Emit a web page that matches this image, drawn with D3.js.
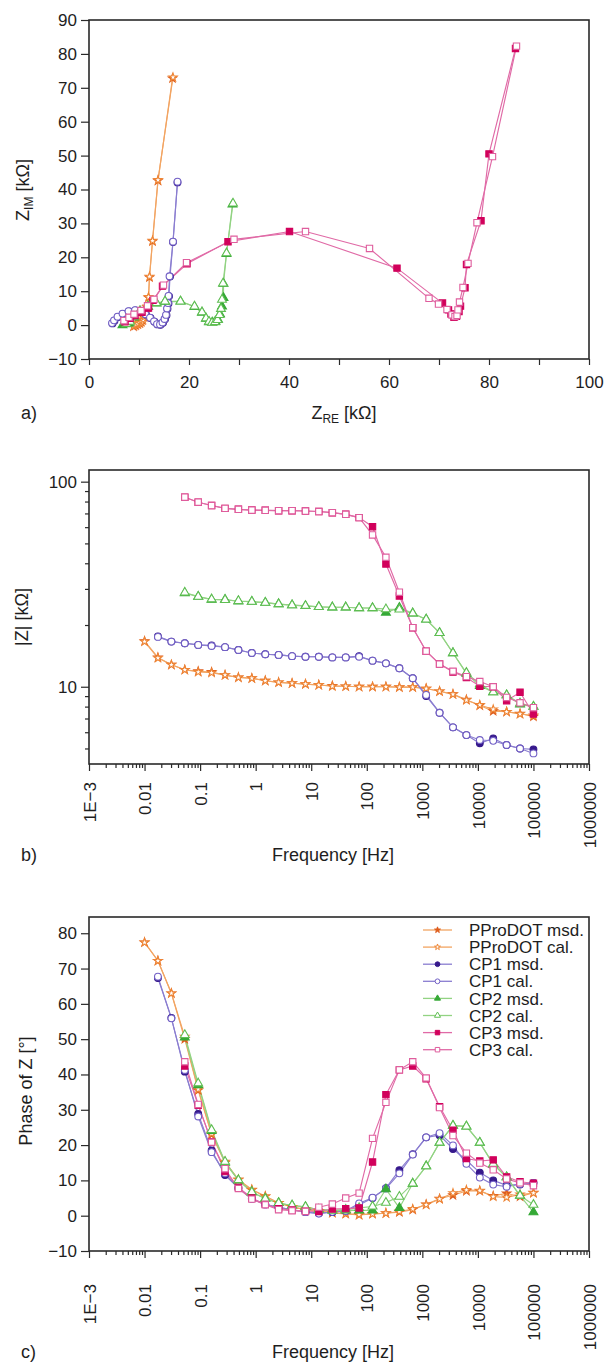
<!DOCTYPE html>
<html>
<head>
<meta charset="utf-8">
<script src="https://cdn.jsdelivr.net/npm/d3@7"></script>
<style>
  body { margin: 0; background: #fff; }
  svg { display: block; }
  text { font-family: "Liberation Sans", Arial, Helvetica, sans-serif; fill: #1e1e1e; }
</style>
</head>
<body>
<svg id="chart" width="606" height="1371"></svg>
<script>
// ---------- data ----------
const seriesNames = ["PProDOT msd.", "PProDOT cal.", "CP1 msd.", "CP1 cal.",
                     "CP2 msd.", "CP2 cal.", "CP3 msd.", "CP3 cal."];

// measurement frequencies [Hz]
const freqHz = [0.01, 0.0174, 0.0304, 0.053, 0.0924, 0.161, 0.281, 0.489, 0.853, 1.49,
                2.59, 4.52, 7.88, 13.7, 24.0, 41.8, 72.8, 127, 221, 386,
                672, 1172, 2043, 3562, 6210, 10827, 18874, 32904, 57362, 100000];
// index of the first frequency used by each series
const firstFreqIndex = [0, 0, 1, 1, 3, 3, 3, 3];

// Nyquist plot: real and imaginary parts [kOhm]
const nyqRePProDOTmsd = [8.9, 9.3, 9.7, 10.1, 10.4, 10.7, 11.0, 11.3, 11.6, 11.9, 12.1, 12.7, 13.8, 16.7];
const nyqImPProDOTmsd = [-0.4, -0.1, 0.2, 0.5, 0.9, 1.4, 2.3, 3.6, 5.3, 8.1, 14.1, 24.7, 42.6, 72.8];
const nyqRePProDOTcal = [9.0, 9.4, 9.8, 10.2, 10.5, 10.8, 11.1, 11.4, 11.7, 11.9, 12.1, 12.7, 13.8, 16.8];
const nyqImPProDOTcal = [-0.2, 0.1, 0.3, 0.6, 1.0, 1.6, 2.5, 3.8, 5.5, 8.3, 14.3, 24.9, 42.8, 73.1];
const nyqReCP1msd = [4.7, 5.1, 5.8, 6.8, 8.0, 9.3, 10.4, 11.4, 12.3, 13.1, 13.7, 14.3, 14.8, 15.2, 15.5, 15.7, 15.9, 16.0, 16.2, 16.8, 17.7];
const nyqImCP1msd = [0.5, 1.3, 2.4, 3.3, 4.0, 4.3, 3.9, 3.1, 2.1, 1.0, 0.2, 0.1, 0.7, 1.7, 2.9, 4.8, 6.4, 8.5, 14.3, 24.5, 42.1];
const nyqReCP1cal = [4.6, 5.0, 5.7, 6.7, 7.9, 9.2, 10.3, 11.3, 12.2, 13.0, 13.6, 14.2, 14.7, 15.1, 15.4, 15.6, 15.8, 15.9, 16.1, 16.8, 17.7];
const nyqImCP1cal = [0.6, 1.4, 2.5, 3.4, 4.1, 4.4, 4.0, 3.2, 2.2, 1.1, 0.3, 0.2, 0.8, 1.8, 3.0, 4.9, 6.5, 8.6, 14.4, 24.6, 42.3];
const nyqReCP2msd = [6.7, 8.0, 9.0, 10.2, 11.8, 13.5, 15.2, 18.3, 21.1, 22.6, 23.4, 24.0, 24.7, 25.3, 25.8, 26.2, 26.6, 26.9, 26.9, 27.5, 28.7];
const nyqImCP2msd = [0.0, 0.5, 2.3, 4.0, 5.4, 6.4, 6.9, 7.0, 5.4, 3.7, 1.9, 0.9, 0.8, 1.0, 1.6, 3.2, 5.5, 8.0, 12.2, 21.0, 35.6];
const nyqReCP2cal = [7.5, 8.2, 9.0, 10.2, 11.8, 13.5, 15.2, 18.3, 21.1, 22.6, 23.4, 24.0, 24.6, 25.2, 25.7, 26.1, 26.4, 26.6, 26.8, 27.5, 28.8];
const nyqImCP2cal = [0.3, 1.0, 2.5, 4.2, 5.5, 6.5, 7.0, 7.0, 5.5, 3.8, 2.0, 1.0, 0.7, 0.9, 1.5, 3.0, 4.8, 7.5, 12.3, 21.2, 35.9];
const nyqReCP3msd = [7.2, 8.2, 9.2, 10.6, 11.9, 12.8, 14.7, 19.6, 27.8, 40.1, 61.6, 70.7, 71.9, 72.4, 73.0, 73.5, 74.0, 74.3, 75.2, 75.5, 78.4, 80.0, 85.3];
const nyqImCP3msd = [1.0, 2.0, 2.8, 3.8, 5.0, 7.3, 11.5, 18.1, 24.6, 27.6, 16.8, 6.5, 4.5, 3.3, 2.3, 2.6, 4.0, 5.6, 11.0, 17.9, 30.8, 50.5, 81.6];
const nyqReCP3cal = [7.0, 8.0, 9.0, 10.4, 11.7, 13.0, 14.9, 19.5, 29.0, 43.3, 56.1, 68.0, 69.9, 71.6, 72.6, 73.2, 73.6, 73.8, 74.1, 74.8, 75.8, 77.6, 80.7, 85.5];
const nyqImCP3cal = [1.3, 2.3, 3.2, 4.3, 5.7, 7.6, 11.8, 18.4, 25.3, 27.6, 22.6, 7.9, 6.2, 4.6, 3.0, 2.5, 2.9, 4.5, 6.8, 11.1, 18.2, 30.2, 49.7, 82.3];

// impedance modulus |Z| [kOhm]
const magPProDOTmsd = [16.7, 13.9, 12.8, 12.1, 11.9, 11.8, 11.4, 11.1, 11.0, 10.7, 10.5, 10.4, 10.3, 10.2, 10.1,
                       10.05, 10.0, 10.0, 10.0, 9.95, 9.95, 9.8, 9.5, 9.2, 8.65, 8.1, 7.6, 7.55, 7.4, 7.15];
const magPProDOTcal = [16.6, 13.8, 12.8, 12.1, 11.8, 11.7, 11.4, 11.1, 11.0, 10.7, 10.5, 10.4, 10.3, 10.2, 10.05,
                       10.05, 10.0, 10.0, 10.0, 9.95, 9.95, 9.8, 9.5, 9.18, 8.6, 8.15, 7.76, 7.55, 7.36, 7.24];
const magCP1msd = [17.6, 16.6, 16.3, 16.0, 15.9, 15.6, 15.1, 14.6, 14.4, 14.3, 14.1, 14.0, 14.0, 13.9,
                   13.9, 14.1, 13.4, 13.0, 12.3, 11.0, 9.0, 7.47, 6.34, 5.81, 5.3, 5.6, 5.2, 5.0, 4.95];
const magCP1cal = [17.5, 16.6, 16.3, 16.0, 15.8, 15.6, 15.1, 14.6, 14.4, 14.3, 14.1, 14.0, 14.0, 13.9,
                   13.9, 14.0, 13.4, 13.0, 12.3, 11.0, 9.12, 7.47, 6.34, 5.81, 5.5, 5.45, 5.2, 5.0, 4.73];
const magCP2msd = [28.6, 27.5, 26.6, 26.6, 26.1, 26.0, 25.7, 25.3, 25.0, 24.8, 24.5, 24.4, 24.4, 24.2,
                   24.2, 23.0, 24.3, 22.8, 21.3, 18.3, 14.6, 11.6, 10.1, 9.4, 9.1, 8.2, 8.0];
const magCP2cal = [28.8, 27.5, 26.7, 26.5, 26.2, 26.0, 25.7, 25.3, 25.0, 24.8, 24.5, 24.4, 24.4, 24.2,
                   24.2, 23.9, 23.8, 22.8, 21.3, 18.3, 14.6, 11.7, 10.3, 9.4, 9.1, 8.3, 8.0];
const magCP3msd = [84.0, 79.4, 76.5, 74.1, 73.3, 72.7, 72.5, 72.2, 72.2, 71.9, 71.5, 70.6, 69.3, 66.8,
                   60.3, 39.7, 27.7, 19.4, 14.9, 12.9, 11.8, 11.1, 10.05, 10.0, 8.55, 9.4, 7.36];
const magCP3cal = [84.0, 79.4, 76.5, 74.1, 73.3, 72.7, 72.5, 72.2, 72.2, 71.9, 71.5, 70.6, 69.3, 66.8,
                   55.0, 42.8, 28.9, 19.4, 14.9, 12.9, 11.9, 11.2, 10.6, 10.0, 8.87, 8.35, 7.9];

// phase of Z [deg]
const phasePProDOTmsd = [77.4, 72.2, 63.0, 50.0, 35.5, 23.0, 15.0, 10.2, 7.3, 5.5, 3.6, 2.5, 1.7, 1.3, 0.8,
                         0.5, 0.2, 0.5, 0.7, 1.0, 1.7, 3.2, 4.8, 5.8, 7.0, 7.0, 5.6, 6.3, 5.4, 6.5];
const phasePProDOTcal = [77.4, 72.2, 63.0, 50.7, 35.8, 23.3, 15.3, 10.2, 7.4, 5.5, 3.6, 2.5, 1.7, 1.3, 0.8,
                         0.6, 0.3, 0.5, 0.7, 1.2, 1.9, 3.1, 4.7, 6.4, 7.3, 7.1, 5.4, 5.2, 6.0, 6.4];
const phaseCP1msd = [67.3, 56.0, 40.8, 28.8, 18.5, 11.5, 7.8, 4.8, 3.2, 2.3, 1.7, 1.0, 0.7, 1.0,
                     1.4, 3.0, 5.0, 7.8, 12.9, 17.4, 22.2, 22.8, 18.9, 15.7, 12.2, 10.0, 8.6, 8.8, 9.3];
const phaseCP1cal = [67.7, 55.9, 41.3, 28.1, 18.0, 12.0, 7.9, 4.7, 3.2, 2.4, 1.7, 1.0, 0.6, 1.1,
                     1.3, 3.5, 5.1, 7.7, 12.0, 17.3, 22.2, 23.4, 19.9, 14.7, 10.8, 8.8, 8.2, 9.0, 9.3];
const phaseCP2msd = [50.5, 37.0, 24.0, 15.0, 10.0, 6.7, 4.8, 3.6, 2.9, 2.5, 1.7, 1.5, 1.5, 1.5,
                     1.5, 7.5, 2.2, 9.1, 14.0, 20.7, 25.5, 25.3, 20.7, 14.5, 10.9, 5.7, 1.0];
const phaseCP2cal = [51.2, 37.5, 24.3, 15.3, 10.1, 6.7, 4.8, 3.6, 2.9, 2.5, 1.7, 1.5, 1.7, 2.2,
                     2.6, 3.7, 5.4, 9.1, 14.0, 20.7, 25.5, 25.3, 20.7, 14.7, 10.9, 5.7, 3.1];
const phaseCP3msd = [42.4, 31.3, 20.9, 12.5, 8.0, 5.0, 3.2, 2.0, 1.6, 1.3, 1.2, 1.9, 2.0, 2.2,
                     15.2, 34.3, 41.3, 42.4, 38.8, 30.9, 24.2, 16.2, 15.5, 15.8, 11.0, 9.6, 9.2];
const phaseCP3cal = [43.6, 31.5, 20.8, 13.3, 7.7, 4.7, 3.1, 1.7, 1.4, 1.2, 2.4, 3.3, 5.0, 6.4,
                     21.9, 32.1, 41.3, 43.6, 39.0, 30.6, 22.7, 17.7, 14.9, 13.0, 10.4, 9.3, 8.5];

// axis ticks
const nyqXTicks = [0, 10, 20, 30, 40, 50, 60, 70, 80, 90, 100];
const nyqYTicks = [-10, 0, 10, 20, 30, 40, 50, 60, 70, 80, 90];
const magTicks = [10, 100];
const phaseTicks = [-10, 0, 10, 20, 30, 40, 50, 60, 70, 80];
const freqTicks = [1e-3, 1e-2, 1e-1, 1, 10, 100, 1e3, 1e4, 1e5, 1e6];
const freqTickLabels = ["1E\u22123", "0.01", "0.1", "1", "10", "100", "1000", "10000", "100000", "1000000"];

// ---------- series appearance ----------
const styles = [
  { shape: d3.symbolStar,     size: 21, legSize: 11, line: "#f2a462", stroke: "#de5c1c", fill: "#de5c1c" },
  { shape: d3.symbolStar,     size: 21, legSize: 11, line: "#f2a462", stroke: "#ee8534", fill: "#ffffff" },
  { shape: d3.symbolCircle,   size: 36, legSize: 18, line: "#8a7dd0", stroke: "#36198c", fill: "#36198c" },
  { shape: d3.symbolCircle,   size: 36, legSize: 18, line: "#8a7dd0", stroke: "#7260c6", fill: "#ffffff" },
  { shape: d3.symbolTriangle, size: 34, legSize: 16, line: "#92d383", stroke: "#35a936", fill: "#35a936" },
  { shape: d3.symbolTriangle, size: 34, legSize: 16, line: "#92d383", stroke: "#5fbe52", fill: "#ffffff" },
  { shape: d3.symbolSquare,   size: 40, legSize: 20, line: "#e06aa6", stroke: "#d1005b", fill: "#d1005b" },
  { shape: d3.symbolSquare,   size: 40, legSize: 20, line: "#e06aa6", stroke: "#df5d9d", fill: "#ffffff" }
];

const nyqRe = [nyqRePProDOTmsd, nyqRePProDOTcal, nyqReCP1msd, nyqReCP1cal, nyqReCP2msd, nyqReCP2cal, nyqReCP3msd, nyqReCP3cal];
const nyqIm = [nyqImPProDOTmsd, nyqImPProDOTcal, nyqImCP1msd, nyqImCP1cal, nyqImCP2msd, nyqImCP2cal, nyqImCP3msd, nyqImCP3cal];
const mags = [magPProDOTmsd, magPProDOTcal, magCP1msd, magCP1cal, magCP2msd, magCP2cal, magCP3msd, magCP3cal];
const phases = [phasePProDOTmsd, phasePProDOTcal, phaseCP1msd, phaseCP1cal, phaseCP2msd, phaseCP2cal, phaseCP3msd, phaseCP3cal];

const nyqSeries = nyqRe.map((re, i) => re.map((r, j) => [r, nyqIm[i][j]]));
const bodeSeries = vals => vals.map((arr, i) => arr.map((v, j) => [freqHz[firstFreqIndex[i] + j], v]));
const magSeries = bodeSeries(mags);
const phaseSeries = bodeSeries(phases);

// ---------- layout ----------
const svg = d3.select("#chart");
const X0 = 89, X1 = 589;
const A = { top: 20, bottom: 359 };
const B = { top: 470, bottom: 764 };
const C = { top: 917, bottom: 1251 };
const TICK_FONT = 17, TITLE_FONT = 18;

const xNyq = d3.scaleLinear().domain([0, 100]).range([X0, X1]);
const yNyq = d3.scaleLinear().domain([-10, 90]).range([A.bottom, A.top]);
const xFreq = d3.scaleLog().domain([1e-3, 1e6]).range([X0, X1]);
const yMag = d3.scaleLog().domain([4.2, 114]).range([B.bottom, B.top]);
const yPhase = d3.scaleLinear().domain([-10, 84.6]).range([C.bottom, C.top]);

function styleAxis(g, size) {
  g.select(".domain").remove();
  g.selectAll(".tick line").attr("stroke", "#2a2a2a").attr("stroke-width", 1.2);
  g.selectAll(".tick text").attr("font-size", size || TICK_FONT).attr("fill", "#1e1e1e")
    .attr("font-family", "Liberation Sans, Arial, sans-serif");
}

function frame(p) {
  svg.append("rect").attr("x", X0).attr("y", p.top).attr("width", X1 - X0).attr("height", p.bottom - p.top)
    .attr("fill", "none").attr("stroke", "#2a2a2a").attr("stroke-width", 1.6);
}

function plotSeries(data, xs, ys) {
  const g = svg.append("g");
  const line = d3.line().x(d => xs(d[0])).y(d => ys(d[1]));
  data.forEach((pts, i) => {
    g.append("path").attr("d", line(pts)).attr("fill", "none")
      .attr("stroke", styles[i].line).attr("stroke-width", 1.15);
  });
  data.forEach((pts, i) => {
    const st = styles[i];
    g.append("g").selectAll("path").data(pts).join("path")
      .attr("transform", d => `translate(${xs(d[0])},${ys(d[1])})`)
      .attr("d", d3.symbol(st.shape, st.size))
      .attr("fill", st.fill).attr("stroke", st.stroke).attr("stroke-width", 1.1);
  });
}

function freqAxis(p, labelGap) {
  const minor = [];
  for (let e = -3; e < 6; e++) for (let m = 2; m <= 9; m++) minor.push(m * Math.pow(10, e));
  svg.append("g").attr("transform", `translate(0,${p.bottom})`)
    .call(d3.axisBottom(xFreq).tickValues(minor).tickSize(4).tickFormat(""))
    .call(g => styleAxis(g));
  svg.append("g").attr("transform", `translate(0,${p.bottom})`)
    .call(d3.axisBottom(xFreq).tickValues(freqTicks).tickSize(7)
      .tickFormat((d, i) => freqTickLabels[i]))
    .call(g => styleAxis(g))
    .call(g => g.selectAll(".tick text")
      .attr("transform", "rotate(-90)")
      .attr("text-anchor", "end")
      .attr("x", -labelGap).attr("y", 0).attr("dy", "0.36em"));
}

function rotatedTitle(x, y, parts) {
  const t = svg.append("text").attr("transform", `translate(${x},${y}) rotate(-90)`)
    .attr("text-anchor", "middle").attr("font-size", TITLE_FONT);
  parts.forEach(p => {
    const s = t.append("tspan").text(p.t);
    if (p.sub) s.attr("font-size", 12).attr("dy", 4);
    if (p.up) s.attr("dy", -4);
  });
}

// ---------- a) Nyquist ----------
svg.append("g").attr("transform", `translate(0,${A.bottom})`)
  .call(d3.axisBottom(xNyq).tickValues(nyqXTicks).tickSize(6).tickPadding(11)
    .tickFormat(d => d % 20 === 0 ? d : ""))
  .call(g => styleAxis(g));
svg.append("g").attr("transform", `translate(${X0},0)`)
  .call(d3.axisLeft(yNyq).tickValues(nyqYTicks).tickSize(8).tickPadding(4))
  .call(g => styleAxis(g));
plotSeries(nyqSeries, xNyq, yNyq);
frame(A);
rotatedTitle(29, 190, [{ t: "Z" }, { t: "IM", sub: true }, { t: " [k\u03A9]", up: true }]);
{
  const t = svg.append("text").attr("x", 344).attr("y", 419).attr("text-anchor", "middle").attr("font-size", TITLE_FONT);
  t.append("tspan").text("Z");
  t.append("tspan").text("RE").attr("font-size", 12).attr("dy", 4);
  t.append("tspan").text(" [k\u03A9]").attr("dy", -4);
}
svg.append("text").attr("x", 21).attr("y", 419).attr("font-size", TITLE_FONT).text("a)");

// ---------- b) |Z| vs frequency ----------
freqAxis(B, 18);
{
  const minorMag = [5, 6, 7, 8, 9, 20, 30, 40, 50, 60, 70, 80, 90];
  svg.append("g").attr("transform", `translate(${X0},0)`)
    .call(d3.axisLeft(yMag).tickValues(minorMag).tickSize(4).tickFormat(""))
    .call(g => styleAxis(g));
  svg.append("g").attr("transform", `translate(${X0},0)`)
    .call(d3.axisLeft(yMag).tickValues(magTicks).tickSize(8).tickPadding(4).tickFormat(d3.format("d")))
    .call(g => styleAxis(g));
}
plotSeries(magSeries, xFreq, yMag);
frame(B);
rotatedTitle(28, 617, [{ t: "|Z| [k\u03A9]" }]);
svg.append("text").attr("x", 333).attr("y", 861).attr("text-anchor", "middle").attr("font-size", TITLE_FONT).text("Frequency [Hz]");
svg.append("text").attr("x", 21).attr("y", 861).attr("font-size", TITLE_FONT).text("b)");

// ---------- c) phase vs frequency ----------
freqAxis(C, 33);
svg.append("g").attr("transform", `translate(${X0},0)`)
  .call(d3.axisLeft(yPhase).tickValues(phaseTicks).tickSize(8).tickPadding(4))
  .call(g => styleAxis(g));
plotSeries(phaseSeries, xFreq, yPhase);
frame(C);
rotatedTitle(32, 1091, [{ t: "Phase of Z [\u00B0]" }]);
svg.append("text").attr("x", 333).attr("y", 1358).attr("text-anchor", "middle").attr("font-size", TITLE_FONT).text("Frequency [Hz]");
svg.append("text").attr("x", 21).attr("y", 1358).attr("font-size", TITLE_FONT).text("c)");

// legend
{
  const lg = svg.append("g");
  seriesNames.forEach((name, i) => {
    const st = styles[i];
    const y = 930 + i * 17.1;
    lg.append("line").attr("x1", 423).attr("x2", 452).attr("y1", y).attr("y2", y)
      .attr("stroke", st.line).attr("stroke-width", 1.3);
    lg.append("path").attr("transform", `translate(437.5,${y})`)
      .attr("d", d3.symbol(st.shape, st.legSize))
      .attr("fill", st.fill).attr("stroke", st.stroke).attr("stroke-width", 1);
    lg.append("text").attr("x", 469).attr("y", y).attr("dy", "0.36em")
      .attr("font-size", TICK_FONT).text(name);
  });
}
</script>
</body>
</html>
